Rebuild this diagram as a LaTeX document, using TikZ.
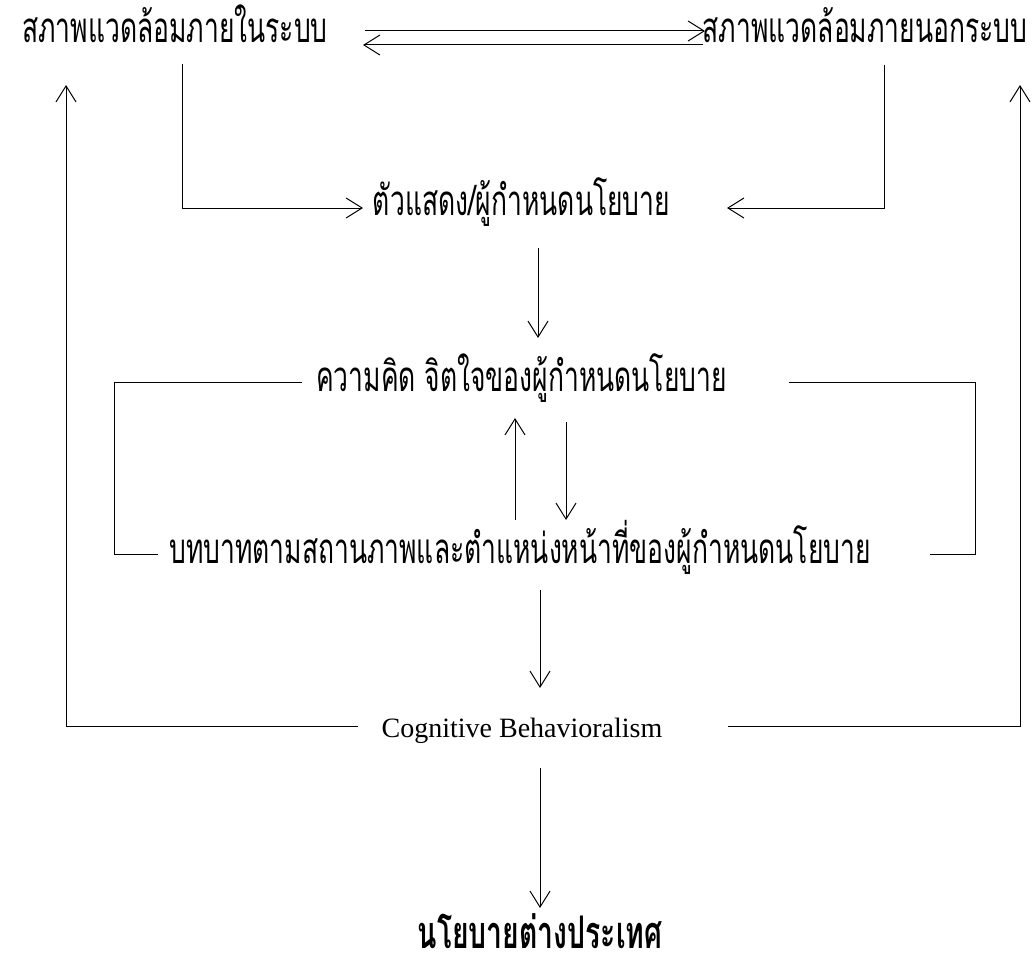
\documentclass[tikz,border=0pt]{standalone}
\usepackage{fontspec}
\setmainfont{Liberation Serif}
\newfontfamily\thaifont[Script=Thai,FakeStretch=0.63]{Loma}
\usetikzlibrary{arrows.meta}

\begin{document}
\begin{tikzpicture}[
    x=0.5pt, y=-0.5pt,
    thai_style/.style={font=\thaifont\fontsize{21}{24}\selectfont, inner sep=0pt, anchor=base},
    bold_style/.style={font=\thaifont\bfseries\fontsize{22.5}{25}\selectfont, inner sep=0pt, anchor=base},
    latin_style/.style={font=\fontsize{14}{16}\selectfont, inner sep=0pt, anchor=base},
    flow_style/.style={draw, black, line width=0.5pt, -{Straight Barb[length=8pt,width=10pt]}},
    link_style/.style={draw, black, line width=0.5pt}
  ]
  \useasboundingbox (0,0) rectangle (1036,974);

  % texts
  \node[thai_style] (inner) at (175,43) {สภาพแวดล้อมภายในระบบ};
  \node[thai_style] (outer) at (865,43) {สภาพแวดล้อมภายนอกระบบ};
  \node[thai_style] (actor) at (521.5,215) {ตัวแสดง/ผู้กำหนดนโยบาย};
  \node[thai_style] (mind) at (521.5,391) {ความคิด จิตใจของผู้กำหนดนโยบาย};
  \node[thai_style] (role) at (520,563) {บทบาทตามสถานภาพและตำแหน่งหน้าที่ของผู้กำหนดนโยบาย};
  \node[latin_style] (cogbeh) at (522,737) {Cognitive Behavioralism};
  \node[bold_style] (policy) at (540,948) {นโยบายต่างประเทศ};

  % top exchange
  \draw[flow_style] ([xshift=95pt,yshift=6pt]inner.base) -- ([xshift=-80pt,yshift=6pt]outer.base);
  \draw[flow_style] ([xshift=-81pt,yshift=-1pt]outer.base) -- ([xshift=94pt,yshift=-1pt]inner.base);

  % environments to actor
  \draw[flow_style] ([xshift=3.5pt,yshift=-10.5pt]inner.base) |- ([xshift=-79.25pt,yshift=3.5pt]actor.base);
  \draw[flow_style] ([xshift=9.5pt,yshift=-11pt]outer.base) |- ([xshift=102.75pt,yshift=3.5pt]actor.base);

  % actor, mind and role
  \draw[flow_style] ([xshift=8.25pt,yshift=-16.5pt]actor.base) -- ([xshift=8.25pt,yshift=26.5pt]mind.base);
  \draw[flow_style] ([xshift=22.25pt,yshift=-15.5pt]mind.base) -- ([xshift=23pt,yshift=21.5pt]role.base);
  \draw[flow_style] ([xshift=-2.5pt,yshift=21.5pt]role.base) -- ([xshift=-3.25pt,yshift=-13.5pt]mind.base);
  \draw[link_style] ([xshift=-109.75pt,yshift=4.5pt]mind.base) -- ++(-94pt,0) |- ([xshift=-181pt,yshift=4.5pt]role.base);
  \draw[link_style] ([xshift=133.75pt,yshift=4.5pt]mind.base) -- ++(93pt,0) |- ([xshift=205pt,yshift=4.5pt]role.base);

  % behaviour and feedback
  \draw[flow_style] ([xshift=10pt,yshift=-13.5pt]role.base) -- ([xshift=9pt,yshift=24.5pt]cogbeh.base);
  \draw[flow_style] ([xshift=-82pt,yshift=5.5pt]cogbeh.base) -| ([xshift=-54.5pt,yshift=-21pt]inner.base);
  \draw[flow_style] ([xshift=103pt,yshift=5.5pt]cogbeh.base) -| ([xshift=77.5pt,yshift=-21pt]outer.base);
  \draw[flow_style] ([xshift=9pt,yshift=-15.5pt]cogbeh.base) -- ([yshift=20pt]policy.base);
\end{tikzpicture}
\end{document}
